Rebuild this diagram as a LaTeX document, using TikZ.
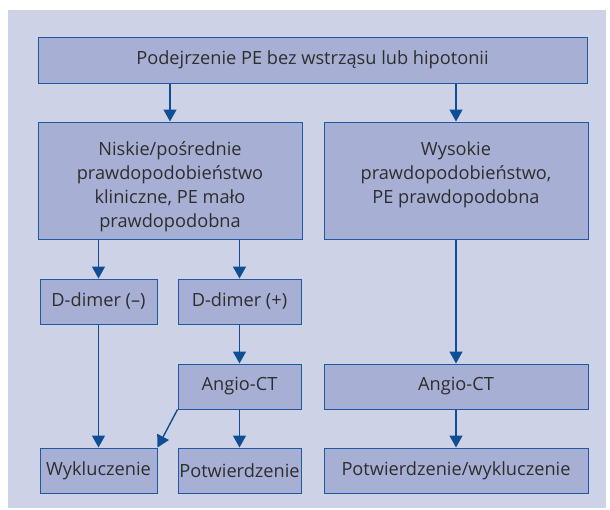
\documentclass[tikz,border=0pt]{standalone}
\usepackage{fontspec}
\setmainfont{Open Sans}
\usetikzlibrary{arrows.meta}
\definecolor{bgc}{HTML}{CDD2E6}
\definecolor{boxc}{HTML}{A7B0D4}
\definecolor{edgec}{HTML}{1E5AA0}
\definecolor{arrc}{HTML}{0F4E96}
\definecolor{txtc}{HTML}{2E2E2E}
\tikzset{
  box/.style={draw=edgec, fill=boxc, line width=1pt, inner sep=0pt,
    text=txtc, font=\fontsize{18.2}{24}\selectfont, align=center},
  boxtext/.style={inner sep=0pt, text=txtc, font=\fontsize{18.2}{24}\selectfont,
    align=center, anchor=north},
  arr/.style={draw=arrc, line width=1.4pt, -{Triangle[width=13pt,length=12pt]}}
}
\begin{document}
\begin{tikzpicture}[x=1pt,y=-1pt]
  \useasboundingbox (0,0) rectangle (610,509);
  \fill[bgc] (8,10) rectangle (606,508);

  % boxes
  \node[box, minimum width=549pt, minimum height=46pt] (top) at (312.5,60)
    {Podejrzenie PE bez wstrząsu lub hipotonii};
  \node[box, minimum width=264pt, minimum height=117pt] (midL) at (170,180.5) {};
  \node[boxtext] (midLt) at (170,141.5)
    {Niskie/pośrednie\\prawdopodobieństwo\\kliniczne, PE mało\\prawdopodobna};
  \node[box, minimum width=264pt, minimum height=117pt] (midR) at (456,180.5) {};
  \node[boxtext] (midRt) at (456,141.5)
    {Wysokie\\prawdopodobieństwo,\\PE prawdopodobna};

  \node[box, minimum width=117pt, minimum height=45pt] (dminus) at (98.5,301.5) {D-dimer (–)};
  \node[box, minimum width=123pt, minimum height=45pt] (dplus) at (239.5,301.5) {D-dimer (+)};
  \node[box, minimum width=123pt, minimum height=45pt] (angioL) at (239.5,386.5) {Angio-CT};
  \node[box, minimum width=264pt, minimum height=45pt] (angioR) at (456,386.5) {Angio-CT};
  \node[box, minimum width=117pt, minimum height=45pt] (wyk) at (98.5,470.5) {Wykluczenie};
  \node[box, minimum width=123pt, minimum height=45pt] (pot) at (239.5,470.5) {Potwierdzenie};
  \node[box, minimum width=264pt, minimum height=45pt] (potwyk) at (456,470.5) {Potwierdzenie/wykluczenie};

  % connectors
  \draw[arr] (top.south -| midL) -- (midL.north);
  \draw[arr] (top.south -| midR) -- (midR.north);
  \draw[arr] (midL.south -| dminus) -- (dminus.north);
  \draw[arr] (midL.south -| dplus) -- (dplus.north);
  \draw[arr] (dminus.south) -- (wyk.north);
  \draw[arr] (dplus.south) -- (angioL.north);
  \draw[arr] (angioL.south) -- (pot.north);
  \draw[arr] (angioL.south west) -- (wyk.north east);
  \draw[arr] (midR.south) -- (angioR.north);
  \draw[arr] (angioR.south) -- (potwyk.north);
\end{tikzpicture}
\end{document}
